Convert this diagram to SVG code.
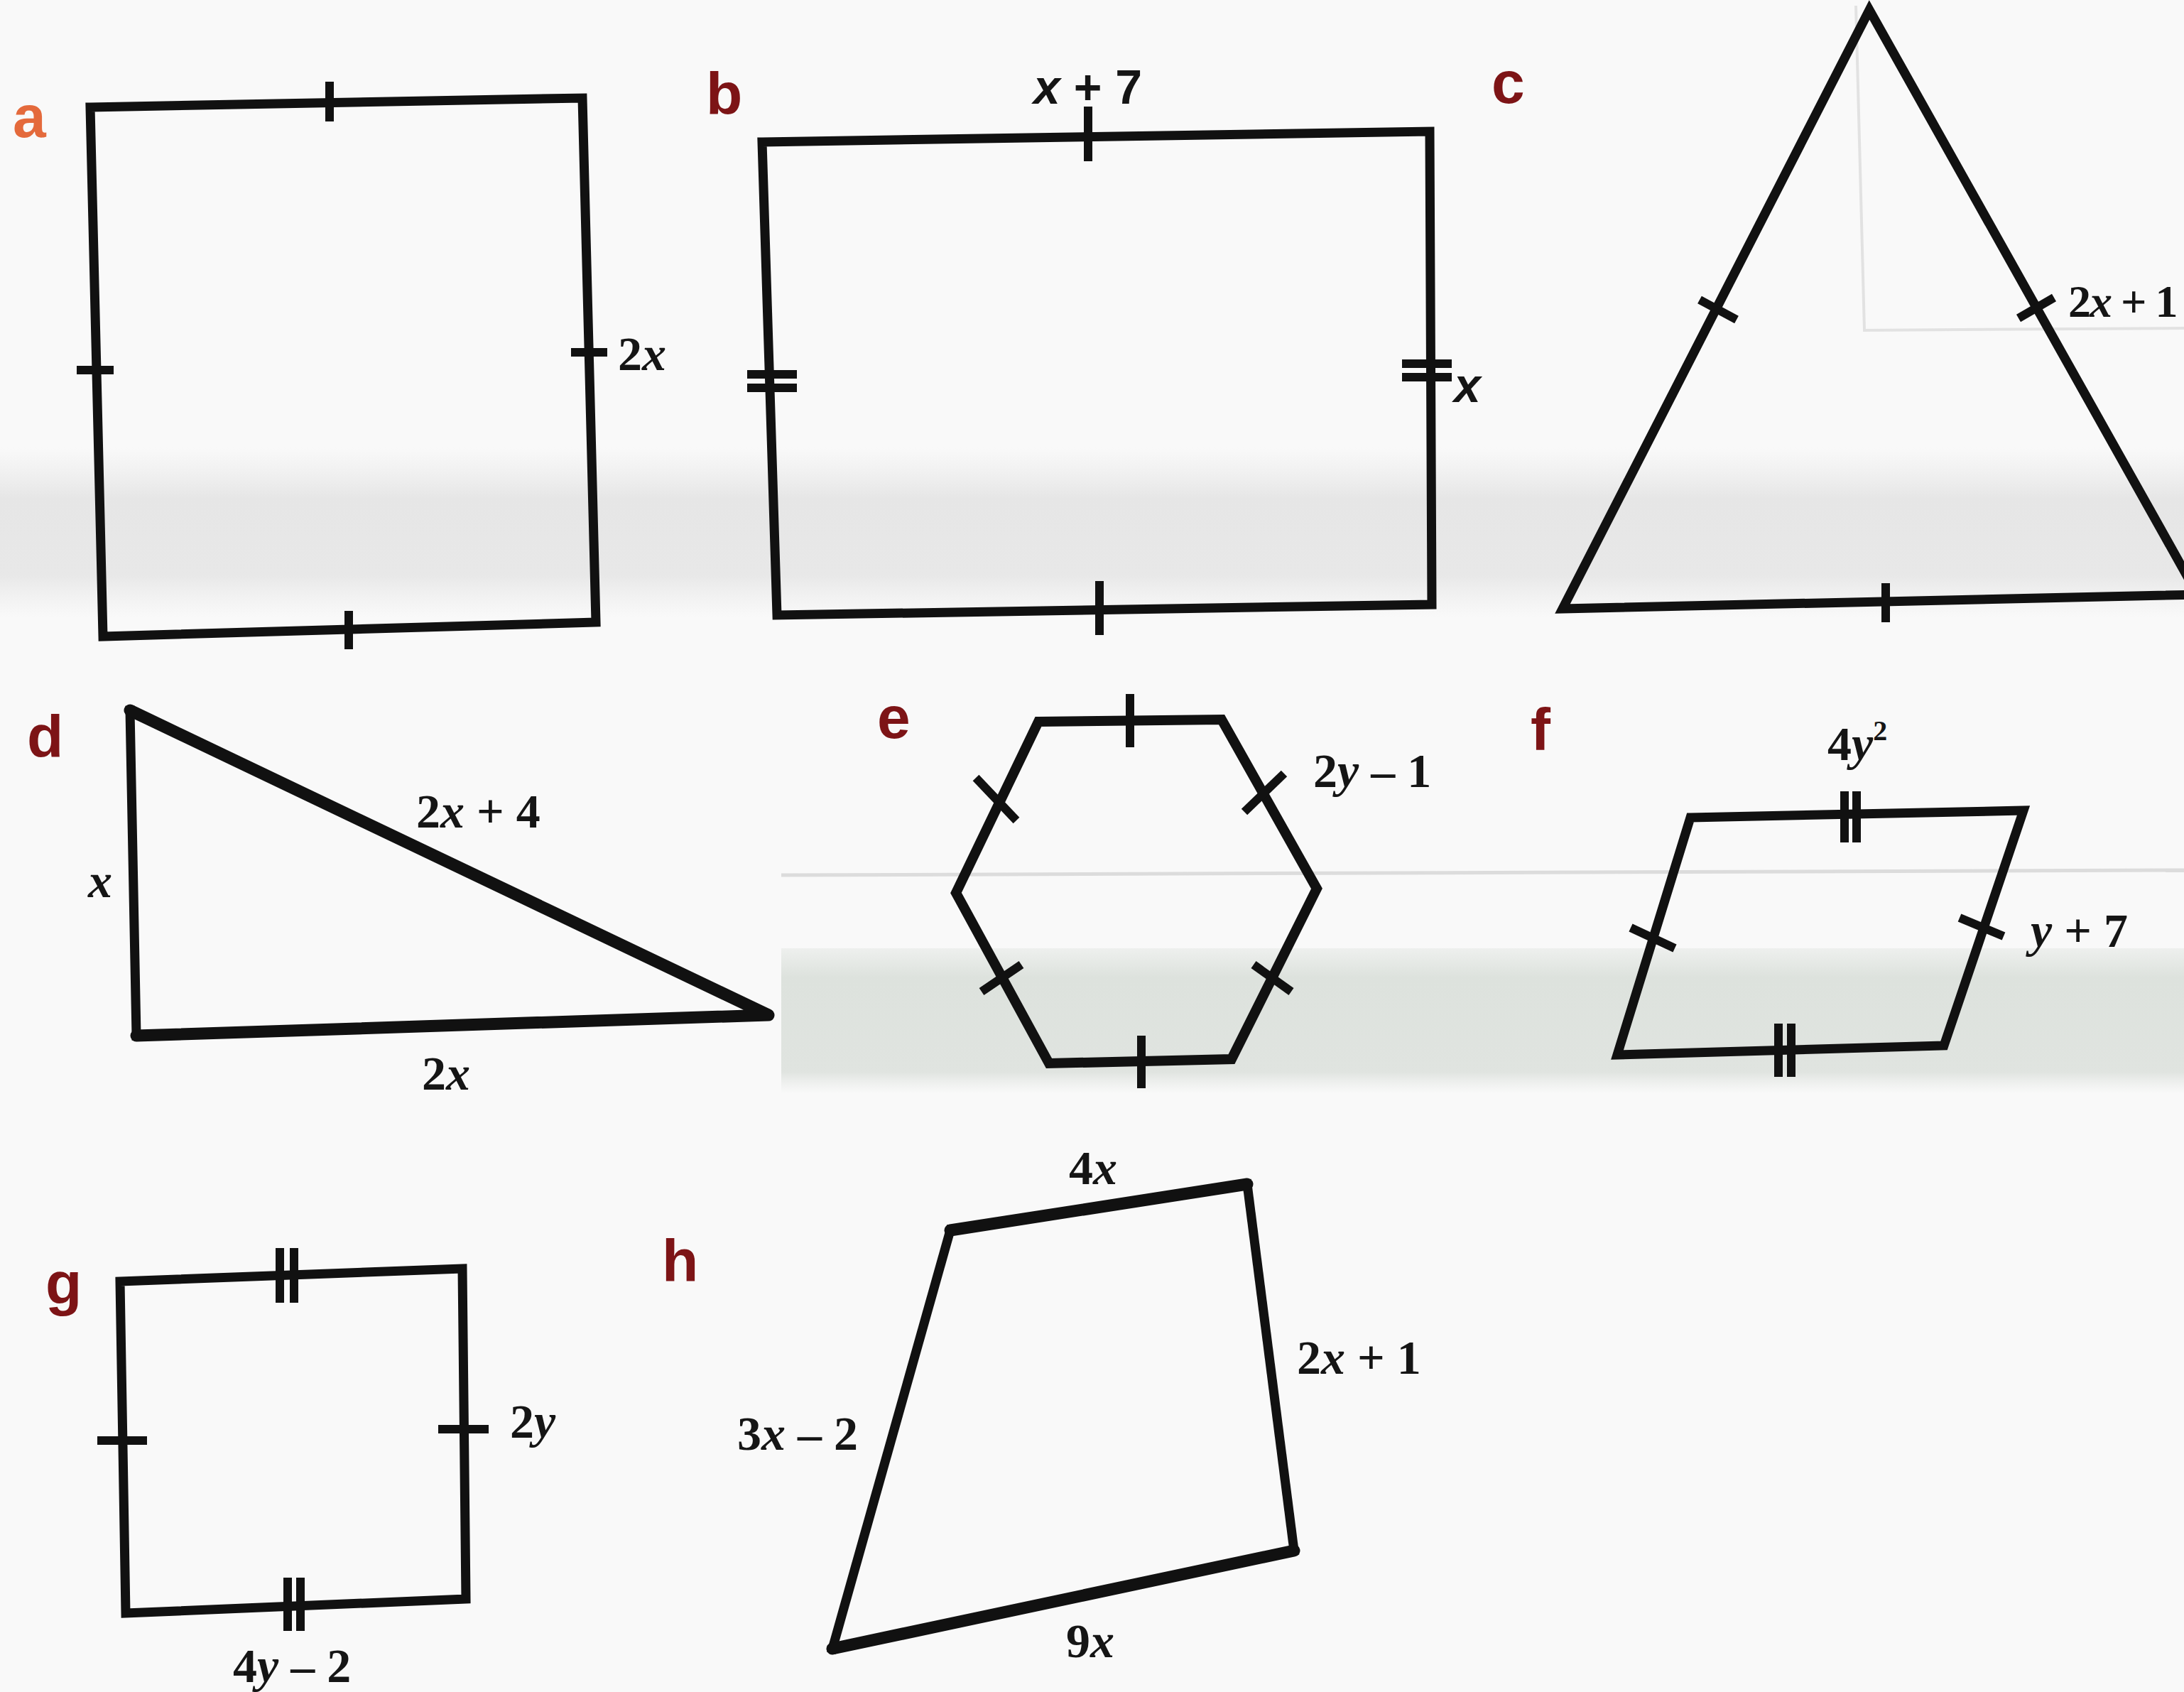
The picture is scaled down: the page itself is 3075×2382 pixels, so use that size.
<svg xmlns="http://www.w3.org/2000/svg" width="3075" height="2382" viewBox="0 0 3075 2382">
<defs>
<linearGradient id="band1" x1="0" y1="0" x2="0" y2="1">
<stop offset="0" stop-color="#e9e9e9" stop-opacity="0"/>
<stop offset="0.3" stop-color="#e6e6e6" stop-opacity="1"/>
<stop offset="0.75" stop-color="#e8e8e8" stop-opacity="1"/>
<stop offset="1" stop-color="#ececec" stop-opacity="0"/>
</linearGradient>
<linearGradient id="band2" x1="0" y1="0" x2="0" y2="1">
<stop offset="0" stop-color="#dde2dd" stop-opacity="0.4"/>
<stop offset="0.2" stop-color="#dde2dd" stop-opacity="1"/>
<stop offset="0.85" stop-color="#e0e4e0" stop-opacity="1"/>
<stop offset="1" stop-color="#e8eae8" stop-opacity="0"/>
</linearGradient>
</defs>
<style>
.shape{fill:none;stroke:#111;stroke-width:13;stroke-linejoin:miter;stroke-linecap:square}
.thick{fill:none;stroke:#111;stroke-width:17;stroke-linecap:round;stroke-linejoin:round}
.tick{fill:none;stroke:#111;stroke-width:12;stroke-linecap:butt}
.lbl{font-family:"Liberation Sans","DejaVu Sans",sans-serif;font-weight:bold;font-size:84px;fill:#7d1416}
.m{font-family:"Liberation Serif","Times New Roman",serif;font-weight:bold;font-size:68px;fill:#151515}
.ms{font-family:"Liberation Sans","DejaVu Sans",sans-serif;font-weight:bold;font-size:68px;fill:#151515}
.i{font-style:italic}
</style>
<rect x="0" y="0" width="3075" height="2382" fill="#f9f9f9"/>
<rect x="0" y="630" width="3075" height="240" fill="url(#band1)"/>
<rect x="1100" y="1335" width="1975" height="205" fill="url(#band2)"/>
<line x1="1100" y1="1232" x2="3075" y2="1225" stroke="#dcdcdc" stroke-width="5"/>
<path d="M2613,8 L2625,465 L3075,462" fill="none" stroke="#e2e2e2" stroke-width="4"/>

<g id="shape-a">
<text class="lbl" x="18" y="193" style="fill:#e46a3c">a</text>
<path class="shape" d="M127,151 L820,138 L839,876 L145,896 Z"/>
<line class="tick" x1="464" y1="115" x2="464" y2="171"/>
<line class="tick" x1="108" y1="521" x2="160" y2="521"/>
<line class="tick" x1="804" y1="496" x2="855" y2="496"/>
<line class="tick" x1="491" y1="860" x2="491" y2="914"/>
<text class="m" x="870" y="521">2<tspan class="i">x</tspan></text>
</g>

<g id="shape-b">
<text class="lbl" x="994" y="161">b</text>
<path class="shape" d="M1073,200 L2013,185 L2016,851 L1094,866 Z"/>
<line class="tick" x1="1532" y1="150" x2="1532" y2="227"/>
<line class="tick" x1="1052" y1="527" x2="1122" y2="527"/>
<line class="tick" x1="1052" y1="546" x2="1122" y2="546"/>
<line class="tick" x1="1974" y1="512" x2="2044" y2="512"/>
<line class="tick" x1="1974" y1="531" x2="2044" y2="531"/>
<line class="tick" x1="1548" y1="818" x2="1548" y2="894"/>
<text class="ms" x="1455" y="146"><tspan class="i">x</tspan> + 7</text>
<text class="ms i" x="2047" y="566">x</text>
</g>

<g id="shape-c">
<text class="lbl" x="2100" y="145">c</text>
<path class="shape" d="M2632,14 L3094,837 L2200,857 Z"/>
<line class="tick" x1="2393" y1="422" x2="2445" y2="450"/>
<line class="tick" x1="2842" y1="448" x2="2892" y2="419"/>
<line class="tick" x1="2655" y1="821" x2="2655" y2="876"/>
<text class="m" x="2912" y="446" style="font-size:64px;letter-spacing:-2px">2<tspan class="i">x</tspan> + 1</text>
</g>

<g id="shape-d">
<text class="lbl" x="38" y="1066">d</text>
<path class="shape" d="M183,1000 L192,1458"/>
<path class="thick" d="M183,1000 L1082,1429 L192,1458"/>
<text class="m i" x="124" y="1263">x</text>
<text class="m" x="586" y="1165">2<tspan class="i">x</tspan> + 4</text>
<text class="m" x="594" y="1534">2<tspan class="i">x</tspan></text>
</g>

<g id="shape-e">
<text class="lbl" x="1235" y="1039">e</text>
<path class="shape" d="M1462,1016 L1720,1013 L1854,1251 L1734,1491 L1477,1497 L1346,1257 Z" style="stroke-width:14"/>
<line class="tick" x1="1591" y1="977" x2="1591" y2="1052"/>
<line class="tick" x1="1607" y1="1458" x2="1607" y2="1532"/>
<line class="tick" x1="1374" y1="1095" x2="1431" y2="1155"/>
<line class="tick" x1="1752" y1="1143" x2="1808" y2="1089"/>
<line class="tick" x1="1382" y1="1396" x2="1438" y2="1358"/>
<line class="tick" x1="1765" y1="1358" x2="1818" y2="1396"/>
<text class="m" x="1849" y="1108">2<tspan class="i">y</tspan> – 1</text>
</g>

<g id="shape-f">
<text class="lbl" x="2155" y="1056">f</text>
<path class="shape" d="M2380,1151 L2849,1141 L2737,1472 L2277,1485 Z"/>
<line class="tick" x1="2597" y1="1114" x2="2597" y2="1186"/>
<line class="tick" x1="2614" y1="1114" x2="2614" y2="1186"/>
<line class="tick" x1="2504" y1="1441" x2="2504" y2="1516"/>
<line class="tick" x1="2522" y1="1441" x2="2522" y2="1516"/>
<line class="tick" x1="2296" y1="1306" x2="2358" y2="1335"/>
<line class="tick" x1="2759" y1="1292" x2="2821" y2="1318"/>
<text class="m" x="2573" y="1070">4<tspan class="i">y</tspan><tspan font-size="40" dy="-28">2</tspan></text>
<text class="m" x="2859" y="1333"><tspan class="i">y</tspan> + 7</text>
</g>

<g id="shape-g">
<text class="lbl" x="64" y="1836">g</text>
<path class="shape" d="M169,1804 L651,1786 L656,2251 L177,2271 Z"/>
<line class="tick" x1="394" y1="1757" x2="394" y2="1834"/>
<line class="tick" x1="414" y1="1757" x2="414" y2="1834"/>
<line class="tick" x1="405" y1="2221" x2="405" y2="2296"/>
<line class="tick" x1="423" y1="2221" x2="423" y2="2296"/>
<line class="tick" x1="137" y1="2028" x2="207" y2="2028"/>
<line class="tick" x1="617" y1="2012" x2="688" y2="2012"/>
<text class="m" x="718" y="2024">2<tspan class="i">y</tspan></text>
<text class="m" x="328" y="2368">4<tspan class="i">y</tspan> – 2</text>
</g>

<g id="shape-h">
<text class="lbl" x="932" y="1804">h</text>
<path class="shape" d="M1756,1667 L1822,2183"/>
<path class="shape" d="M1338,1732 L1172,2321"/>
<path class="thick" d="M1338,1732 L1756,1667"/>
<path class="thick" d="M1822,2183 L1172,2321"/>
<text class="m" x="1505" y="1667">4<tspan class="i">x</tspan></text>
<text class="m" x="1826" y="1934">2<tspan class="i">x</tspan> + 1</text>
<text class="m" x="1038" y="2041">3<tspan class="i">x</tspan> – 2</text>
<text class="m" x="1501" y="2333">9<tspan class="i">x</tspan></text>
</g>
</svg>
